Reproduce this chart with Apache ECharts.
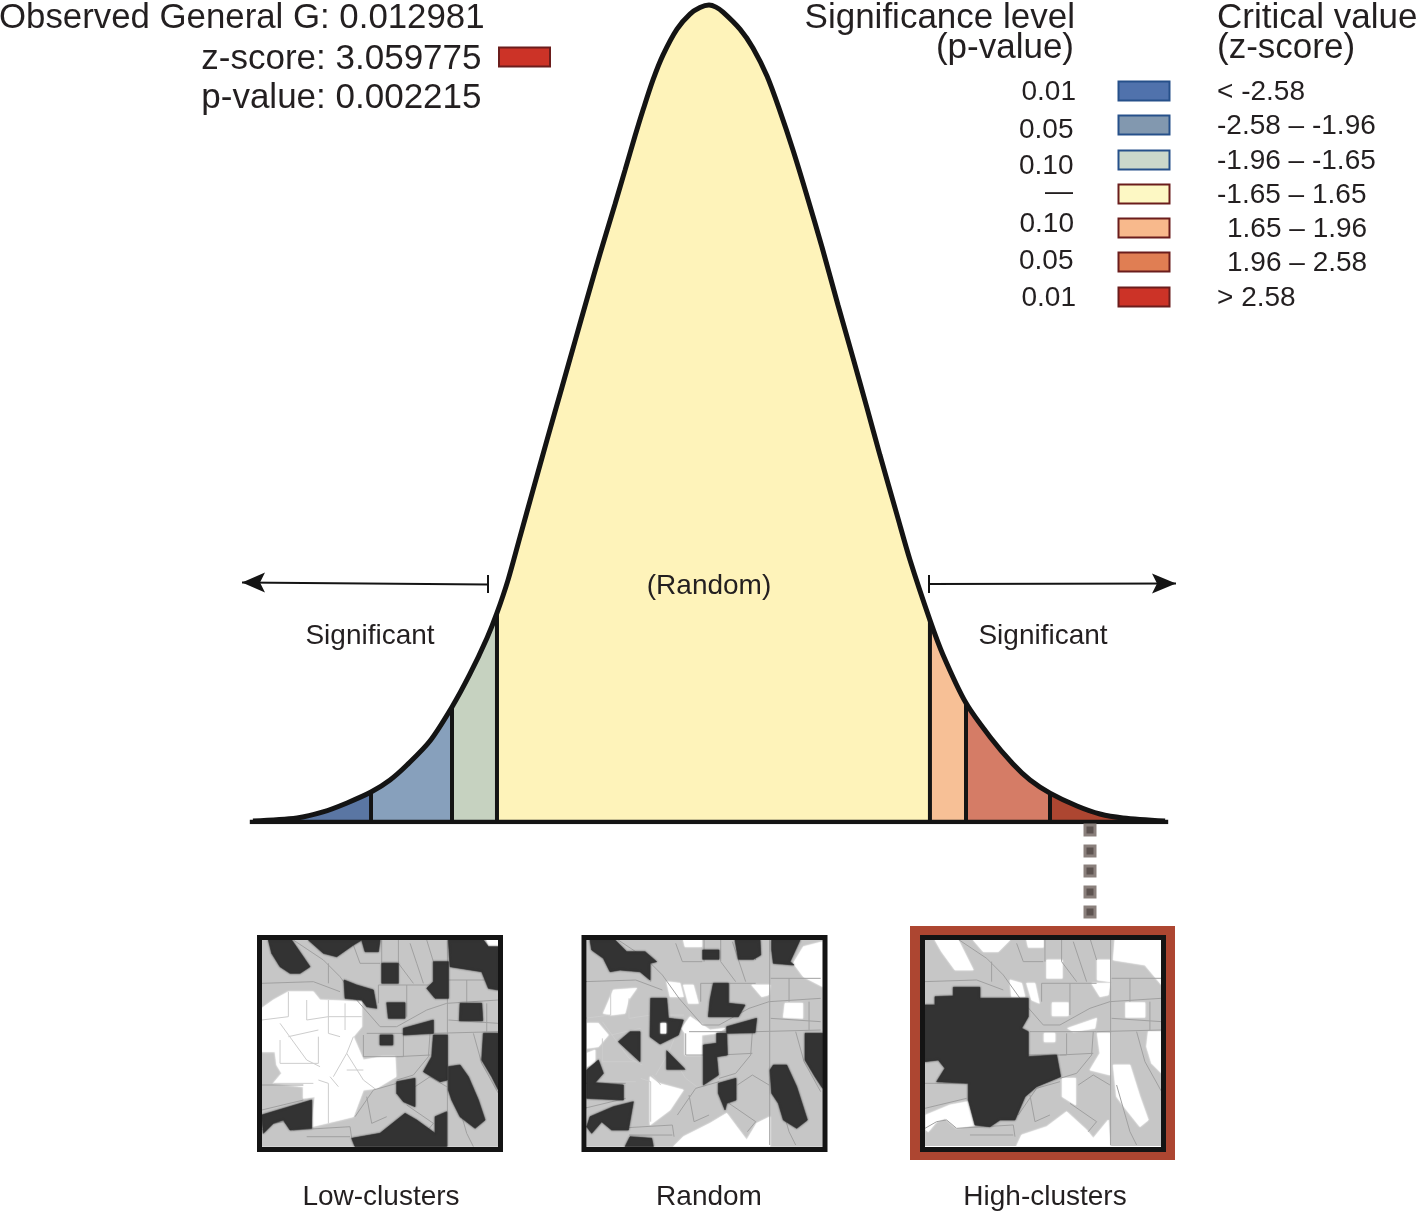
<!DOCTYPE html>
<html>
<head>
<meta charset="utf-8">
<title>General G</title>
<script src="https://cdn.jsdelivr.net/npm/echarts@6/dist/echarts.min.js"></script>
<style>
  html, body { margin: 0; padding: 0; background: #fff; }
  #main { width: 1418px; height: 1214px; }
</style>
</head>
<body>
<div id="main"></div>
<script>
// curve: z-score and density
const curveZ = [-3.476, -3.14, -2.942, -2.759, -2.576, -2.431, -2.302, -2.127, -1.959, -1.822, -1.692, -1.616,
  -1.532, -1.441, -1.341, -1.235, -1.12, -1.021, -0.93, -0.831, -0.716, -0.64, -0.564, -0.503, -0.427,
  -0.351, -0.244, -0.145, -0.069, 0, 0.053, 0.107, 0.236, 0.335, 0.442, 0.541, 0.64, 0.747, 0.861, 0.983, 1.098, 1.204, 1.303,
  1.433, 1.532, 1.684, 1.784, 1.959, 2.142, 2.317, 2.447, 2.599, 2.805, 2.98, 3.155, 3.476];
const curveDensity = [0.0005, 0.002, 0.0049, 0.0093, 0.0146, 0.0205, 0.0278, 0.0395, 0.0561, 0.0722, 0.0898, 0.102,
  0.118, 0.139, 0.162, 0.1863, 0.2122, 0.2346, 0.2551, 0.2771, 0.3015, 0.318, 0.3346, 0.3473, 0.362,
  0.3741, 0.3868, 0.3941, 0.3973, 0.3985, 0.3975, 0.3951, 0.3868, 0.3776, 0.3639, 0.3468, 0.3278, 0.3054, 0.2805, 0.2522, 0.2263,
  0.202, 0.179, 0.1498, 0.1278, 0.0985, 0.0815, 0.058, 0.0415, 0.0283, 0.0205, 0.0141, 0.0078, 0.0039, 0.002, 0.0005];
// where the bands of the curve start and stop
const bandEdges = [-3.14, -2.576, -1.959, -1.616, 1.684, 1.959, 2.599, 3.155];
const baselineZ = [-3.5, 3.5];

// texts
const statNames = ['Observed General G: 0.012981', 'z-score: 3.059775', 'p-value: 0.002215'];
const pValueTitle = ['Significance level', '(p-value)'];
const zScoreTitle = ['Critical value', '(z-score)'];
const pValueLabels = ['0.01', '0.05', '0.10', '—', '0.10', '0.05', '0.01'];
const zScoreLabels = ['< -2.58', '-2.58 – -1.96', '-1.96 – -1.65', '-1.65 – 1.65', '1.65 – 1.96', '1.96 – 2.58', '> 2.58'];
const mapNames = ['Low-clusters', 'Random', 'High-clusters'];

// tract outlines of the small maps (crop units)
const tractLines = [
  [[622, 60], [622, 680]], [[380, 340], [580, 340], [775, 335]],
  [[160, 60], [250, 120], [300, 170], [350, 240], [420, 320], [470, 320], [560, 270], [620, 250], [775, 240]],
  [[65, 190], [220, 185], [300, 215]], [[415, 195], [580, 195]],
  [[370, 345], [370, 410], [490, 410], [490, 345]], [[470, 410], [570, 405]],
  [[570, 340], [565, 410], [520, 465], [470, 480]], [[345, 590], [400, 510], [470, 490]],
  [[380, 530], [395, 610], [440, 590]], [[525, 500], [570, 470], [620, 500]], [[500, 555], [580, 610], [555, 640]],
  [[65, 495], [190, 495]], [[190, 540], [65, 570]],
  [[65, 630], [100, 610], [130, 605], [160, 630], [330, 620], [335, 655]], [[200, 650], [330, 650]],
  [[425, 60], [425, 130]], [[475, 60], [475, 130], [520, 190]], [[510, 70], [530, 130], [550, 190]],
  [[265, 130], [265, 190]], [[625, 180], [775, 180]], [[680, 180], [680, 250]], [[625, 300], [775, 310]],
  [[740, 250], [740, 335]], [[700, 340], [725, 430], [775, 520]], [[415, 195], [415, 250]], [[500, 195], [500, 290]],
  [[560, 60], [580, 125]], [[340, 75], [360, 130], [420, 130]], [[640, 500], [680, 640], [700, 680]]
];
const tractLinesInner = [
  [[120, 310], [200, 420], [240, 440]], [[145, 350], [235, 330]], [[265, 240], [265, 340], [300, 350]],
  [[235, 350], [235, 430]], [[315, 250], [315, 330]], [[120, 360], [120, 430]], [[270, 470], [295, 500]],
  [[320, 400], [370, 480], [410, 510]], [[280, 470], [320, 400], [340, 350]], [[235, 480], [265, 490], [265, 610]],
  [[100, 490], [220, 490]], [[145, 215], [145, 290], [65, 300]], [[200, 240], [200, 300], [265, 290]],
  [[120, 430], [235, 430]], [[320, 450], [370, 450]], [[265, 290], [365, 290]]
];

const lowDark = [
  [[85, 60], [155, 60], [210, 140], [180, 160], [150, 160], [120, 140], [95, 100]],
  [[205, 60], [365, 60], [340, 75], [290, 110], [250, 100]],
  [[365, 60], [420, 60], [415, 95], [375, 95]],
  [[425, 130], [475, 130], [475, 190], [425, 190]],
  [[580, 125], [625, 125], [625, 235], [585, 235], [560, 205], [580, 185]],
  [[625, 60], [730, 60], [745, 80], [775, 80], [775, 210], [745, 205], [725, 155], [630, 140]],
  [[312, 180], [350, 195], [400, 210], [410, 265], [380, 260], [365, 240], [315, 235]],
  [[440, 248], [495, 248], [495, 295], [445, 295]],
  [[660, 250], [725, 250], [728, 302], [658, 302]],
  [[490, 325], [580, 300], [580, 340], [490, 345]],
  [[420, 345], [458, 345], [458, 375], [420, 375]],
  [[580, 345], [622, 345], [622, 480], [600, 485], [550, 455], [575, 410]],
  [[730, 340], [775, 340], [775, 510], [755, 470], [725, 420]],
  [[625, 440], [660, 435], [685, 470], [715, 540], [735, 600], [705, 625], [660, 590], [635, 540], [625, 510]],
  [[470, 485], [525, 475], [525, 560], [490, 545], [470, 520]],
  [[65, 585], [215, 540], [215, 625], [150, 630], [130, 600], [100, 610], [70, 640]],
  [[335, 655], [420, 640], [495, 580], [530, 600], [585, 640], [585, 590], [620, 575], [620, 680], [345, 680]]
];
const lowWhite = [
  [[65, 265], [100, 240], [145, 215], [220, 215], [240, 240], [365, 245], [365, 320], [340, 350], [370, 420], [425, 410],
   [465, 410], [468, 470], [410, 505], [370, 510], [340, 590], [300, 600], [215, 620], [225, 530], [190, 535], [190, 500],
   [100, 490], [125, 460], [110, 435], [105, 395], [65, 395]],
  [[740, 60], [775, 60], [775, 80], [745, 78]]
];

const randomDark = [
  [[60, 60], [135, 60], [170, 95], [225, 95], [260, 125], [240, 130], [240, 180], [210, 155], [150, 150], [120, 155], [100, 115], [65, 90]],
  [[398, 90], [447, 90], [447, 118], [398, 118]],
  [[495, 60], [570, 60], [572, 105], [550, 118], [505, 118]],
  [[605, 60], [690, 60], [660, 125], [672, 135], [610, 130], [605, 90]],
  [[430, 190], [475, 190], [475, 250], [525, 255], [505, 290], [415, 290], [420, 240]],
  [[242, 235], [290, 235], [295, 295], [340, 300], [325, 345], [270, 372], [240, 350]],
  [[470, 320], [560, 295], [555, 338], [470, 340]],
  [[145, 365], [180, 335], [210, 335], [210, 425]],
  [[705, 340], [758, 340], [758, 505], [735, 470], [705, 420]],
  [[400, 375], [440, 370], [440, 340], [470, 340], [472, 405], [440, 410], [445, 465], [400, 495]],
  [[290, 392], [345, 448], [290, 448]],
  [[50, 450], [85, 420], [100, 460], [75, 488], [160, 495], [160, 540], [50, 535]],
  [[445, 490], [498, 475], [498, 540], [470, 550], [465, 570], [445, 520]],
  [[600, 450], [610, 435], [650, 435], [680, 500], [712, 600], [680, 625], [640, 600], [625, 550], [605, 520]],
  [[60, 590], [130, 560], [190, 545], [175, 630], [125, 630], [95, 605], [65, 640], [50, 620]],
  [[165, 680], [180, 650], [245, 655], [250, 680]]
];
const randomWhite = [
  [[340, 60], [395, 60], [395, 80], [345, 80]],
  [[670, 130], [700, 80], [758, 65], [758, 200], [700, 170]],
  [[290, 185], [330, 190], [340, 230], [300, 230]],
  [[340, 195], [370, 195], [385, 250], [355, 250]],
  [[545, 195], [600, 195], [595, 225], [575, 230]],
  [[100, 280], [130, 210], [200, 205], [175, 240], [165, 280], [125, 285]],
  [[645, 250], [698, 250], [698, 295], [640, 292]],
  [[50, 310], [85, 310], [115, 345], [85, 380], [50, 385]],
  [[335, 325], [360, 290], [420, 330], [465, 325], [440, 340], [395, 345], [395, 405], [345, 405], [345, 340]],
  [[240, 470], [265, 490], [340, 510], [300, 570], [240, 615]],
  [[310, 680], [340, 650], [420, 610], [470, 580], [500, 620], [530, 660], [560, 610], [600, 590], [600, 680]],
  [[50, 400], [75, 390], [75, 430], [50, 440]]
];
const randomHoles = [
  [[272, 310], [288, 310], [288, 340], [272, 340]]
];

const highDark = [
  [[73, 585], [105, 585], [105, 560], [160, 558], [160, 532], [240, 532], [240, 565], [385, 565], [385, 620], [365, 655],
   [385, 665], [385, 740], [470, 735], [482, 800], [410, 830], [375, 860], [345, 930], [300, 930], [270, 950], [225, 945],
   [205, 870], [205, 820], [110, 815], [135, 775], [115, 750], [73, 755]]
];
const highWhite = [
  [[105, 390], [175, 390], [220, 480], [165, 480], [125, 425]],
  [[220, 390], [330, 390], [295, 425], [250, 425]],
  [[380, 390], [430, 390], [430, 412], [385, 412]],
  [[645, 388], [785, 388], [785, 525], [735, 465], [640, 450]],
  [[440, 450], [487, 450], [487, 505], [440, 505]],
  [[592, 450], [630, 450], [630, 515], [592, 510]],
  [[330, 510], [365, 520], [375, 560], [335, 560]],
  [[380, 520], [405, 520], [418, 580], [395, 570]],
  [[575, 520], [630, 520], [625, 555], [600, 560]],
  [[457, 578], [505, 578], [505, 617], [457, 617]],
  [[677, 578], [735, 578], [735, 622], [677, 622]],
  [[503, 655], [590, 625], [585, 655], [520, 665]],
  [[433, 670], [465, 670], [465, 695], [433, 695]],
  [[592, 670], [630, 670], [630, 795], [570, 780], [600, 730]],
  [[745, 665], [785, 665], [785, 790], [755, 760], [740, 710]],
  [[487, 805], [527, 805], [527, 885], [487, 860]],
  [[640, 765], [690, 765], [720, 860], [745, 930], [720, 950], [680, 900], [650, 860]],
  [[78, 915], [150, 885], [230, 870], [225, 945], [170, 955], [135, 925], [110, 935], [85, 965], [78, 960]],
  [[350, 1008], [365, 975], [440, 950], [500, 905], [560, 960], [580, 985], [625, 930], [630, 1008]]
];

// colours and layout
const bandColors = ['#5a76a3', '#87a0bc', '#c6d2c0', '#fef3ba', '#f7c096', '#d57c66', '#ad4631'];
const swatchFill = ['#5072ac', '#8298af', '#cbd8cb', '#fdf8c4', '#f8b98c', '#e07e53', '#cc3327'];
const swatchStroke = ['#26508a', '#26508a', '#26508a', '#6b1d1c', '#6b1d1c', '#6b1d1c', '#6b1d1c'];
const ink = '#141414';
const textColor = '#231f20';
const fontFamily = '"Liberation Sans", Arial, sans-serif';
const pValueX = [1076, 1073.5, 1073.5, 1073, 1074, 1073.5, 1076];
const pValueY = [91, 129, 165, 191, 223, 260, 297];
const swatchY = [91, 125, 160, 194, 228, 262, 297];
const zScoreX = [1217, 1217, 1217, 1217, 1227, 1227, 1217];

const mapLayout = [
  { dark: lowDark, white: lowWhite, holes: [], dx: 0, dy: 0, xRange: [65, 775], yRange: [60, 680],
    grid: { left: 261.7, top: 940, width: 236.7, height: 206.7 }, frameX: 259.5, labelX: 381 },
  { dark: randomDark, white: randomWhite, holes: randomHoles, dx: -23, dy: -5, xRange: [50, 758], yRange: [60, 680],
    grid: { left: 586.7, top: 940, width: 236, height: 206.7 }, frameX: 584, labelX: 709 },
  { dark: highDark, white: highWhite, holes: [], dx: 10, dy: 325, xRange: [73, 785], yRange: [388, 1008],
    grid: { left: 924.3, top: 939.3, width: 237.3, height: 206.7 }, frameX: 922.5, labelX: 1045 }
];

function text(str, x, y, size, align) {
  return {
    type: 'text', z: 60,
    style: { text: str, x: x, y: y + 1, fill: textColor, font: size + 'px ' + fontFamily,
      textAlign: align || 'left', align: align || 'left', textVerticalAlign: 'middle', verticalAlign: 'middle' }
  };
}

function swatch(y, x, i) {
  return {
    type: 'rect', z: 60, shape: { x: x, y: y - 9.5, width: 51, height: 19 },
    style: { fill: swatchFill[i], stroke: swatchStroke[i], lineWidth: 2 }
  };
}

function arrow(x1, y1, x2, y2, headBack, notch, barX) {
  return [
    { type: 'line', z: 60, shape: { x1: x1, y1: y1, x2: x2, y2: y2 }, style: { stroke: ink, lineWidth: 2 } },
    { type: 'line', z: 60, shape: { x1: barX, y1: 575, x2: barX, y2: 593 }, style: { stroke: ink, lineWidth: 2 } },
    { type: 'polygon', z: 60, shape: { points: [[x1, y1], [headBack, y1 - 10], [notch, y1], [headBack, y1 + 10]] }, style: { fill: ink } }
  ];
}

// ---- bell curve series ----
const curve = curveZ.map((z, i) => [z, curveDensity[i]]);
const curveSeries = [];

// one filled area per band
for (let i = 0; i < bandEdges.length - 1; i++) {
  curveSeries.push({
    type: 'line', xAxisIndex: 0, yAxisIndex: 0, silent: true, showSymbol: false, z: 2, animation: false,
    data: curve.filter(p => p[0] >= bandEdges[i] && p[0] <= bandEdges[i + 1]),
    lineStyle: { width: 0 }, areaStyle: { color: bandColors[i], opacity: 1 }, itemStyle: { color: bandColors[i] }
  });
}
// dividers between the bands
bandEdges.slice(1, -1).forEach(edge => {
  const top = curve.find(p => p[0] === edge);
  curveSeries.push({
    type: 'line', xAxisIndex: 0, yAxisIndex: 0, silent: true, showSymbol: false, z: 3, animation: false,
    data: [[edge, 0], top], lineStyle: { color: ink, width: 4, cap: 'butt' }
  });
});
// outline + baseline
curveSeries.push({
  type: 'line', xAxisIndex: 0, yAxisIndex: 0, silent: true, showSymbol: false, z: 4, animation: false, clip: false,
  smooth: 0.3, data: curve, lineStyle: { color: ink, width: 5 }
});
curveSeries.push({
  type: 'line', xAxisIndex: 0, yAxisIndex: 0, silent: true, showSymbol: false, z: 4, animation: false,
  data: baselineZ.map(z => [z, 0]), lineStyle: { color: ink, width: 4.5 }
});

// ---- small maps, drawn with a custom series in their own grid ----
function mapSeries(m, axis) {
  const shift = line => line.map(p => [p[0] + m.dx, p[1] + m.dy]);
  const items = [];
  m.white.forEach(p => items.push({ pts: p, fill: '#ffffff' }));
  tractLinesInner.forEach(l => items.push({ pts: shift(l), line: '#cdcdcd' }));
  tractLines.forEach(l => items.push({ pts: shift(l), line: '#a0a0a0' }));
  m.dark.forEach(p => items.push({ pts: p, fill: '#333333' }));
  m.holes.forEach(p => items.push({ pts: p, fill: '#ffffff' }));
  return {
    type: 'custom', xAxisIndex: axis, yAxisIndex: axis, silent: true, clip: true, z: 2, animation: false,
    data: items.map((it, i) => [i]),
    renderItem: function (params, api) {
      const it = items[params.dataIndex];
      const pts = it.pts.map(p => api.coord(p));
      if (it.fill) {
        return { type: 'polygon', shape: { points: pts },
          style: { fill: it.fill, stroke: it.fill, lineWidth: 0.5, shadowBlur: 2, shadowColor: it.fill } };
      }
      return { type: 'polyline', shape: { points: pts }, style: { fill: null, stroke: it.line, lineWidth: 1 } };
    }
  };
}

const grids = [{ left: 249.8, top: 2, width: 918.4, height: 820 }];
const xAxes = [{ type: 'value', min: -3.5, max: 3.5, show: false }];
const yAxes = [{ type: 'value', min: 0, max: 0.4, show: false }];
const mapSeriesList = [];
mapLayout.forEach((m, i) => {
  grids.push(Object.assign({ show: true, backgroundColor: '#c6c6c6', borderWidth: 0 }, m.grid));
  xAxes.push({ gridIndex: i + 1, type: 'value', min: m.xRange[0], max: m.xRange[1], show: false });
  yAxes.push({ gridIndex: i + 1, type: 'value', min: m.yRange[0], max: m.yRange[1], inverse: true, show: false });
  mapSeriesList.push(mapSeries(m, i + 1));
});

// ---- texts, legend, arrows, frames ----
let graphics = [
  text(statNames[0], 484.5, 17, 34.8, 'right'),
  text(statNames[1], 481.5, 58, 35, 'right'),
  text(statNames[2], 481.5, 97, 35, 'right'),
  { type: 'rect', z: 60, shape: { x: 499, y: 47.5, width: 51, height: 19 }, style: { fill: swatchFill[6], stroke: swatchStroke[6], lineWidth: 2 } },
  text(pValueTitle[0], 1075, 17, 35, 'right'),
  text(pValueTitle[1], 1074, 47, 35, 'right'),
  text(zScoreTitle[0], 1217, 17, 35, 'left'),
  text(zScoreTitle[1], 1217, 47, 35, 'left'),
  text('(Random)', 709, 585, 28, 'center'),
  text('Significant', 370, 635, 28, 'center'),
  text('Significant', 1043, 635, 28, 'center')
];
pValueLabels.forEach((s, i) => graphics.push(text(s, pValueX[i], pValueY[i], 28, 'right')));
zScoreLabels.forEach((s, i) => graphics.push(text(s, zScoreX[i], swatchY[i], 28, 'left')));
swatchY.forEach((y, i) => graphics.push(swatch(y, 1118.5, i)));
graphics = graphics.concat(arrow(242, 582.5, 488, 584.5, 265, 260, 488));
graphics = graphics.concat(arrow(1176, 583.5, 929, 584, 1152, 1157, 929));

// dotted connector under the red tail
[830, 851, 871, 892, 912].forEach(y => {
  graphics.push({ type: 'rect', z: 60, shape: { x: 1083.5, y: y - 6.5, width: 13, height: 13 }, style: { fill: '#8a807c' } });
  graphics.push({ type: 'rect', z: 61, shape: { x: 1086.5, y: y - 3.5, width: 7, height: 7 }, style: { fill: '#5d5350' } });
});

// red highlight + black map frames
graphics.push({ type: 'rect', z: 60, shape: { x: 915, y: 931, width: 255, height: 224 }, style: { fill: null, stroke: '#ad4631', lineWidth: 10 } });
mapLayout.forEach((m, i) => {
  graphics.push({ type: 'rect', z: 61, shape: { x: m.frameX, y: 937.5, width: 241, height: 212 }, style: { fill: null, stroke: ink, lineWidth: 5 } });
  graphics.push(text(mapNames[i], m.labelX, 1196, 28, 'center'));
});

const myChart = echarts.init(document.getElementById('main'), null, { renderer: 'canvas' });
myChart.setOption({
  backgroundColor: '#ffffff',
  animation: false,
  tooltip: { show: false },
  grid: grids,
  xAxis: xAxes,
  yAxis: yAxes,
  series: curveSeries.concat(mapSeriesList),
  graphic: { elements: graphics }
});
</script>
</body>
</html>
